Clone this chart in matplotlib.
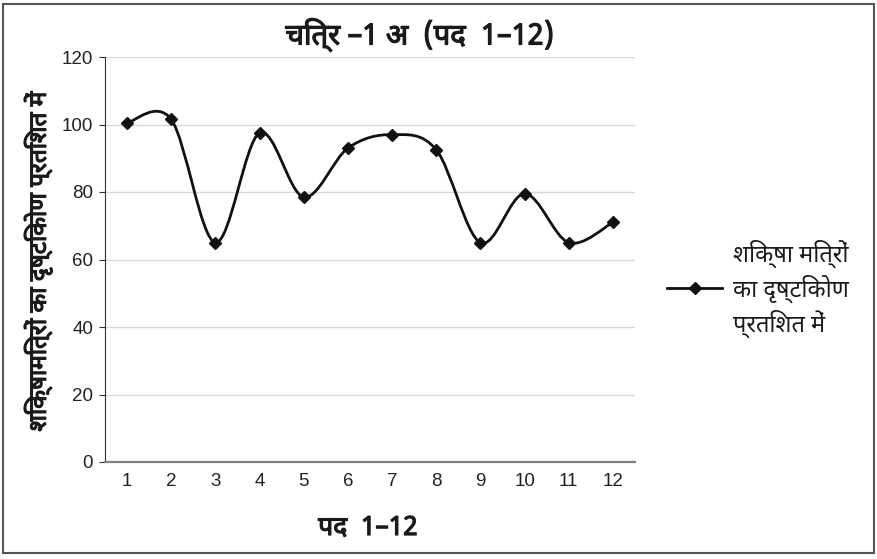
import numpy as np
import matplotlib
matplotlib.use("Agg")
import matplotlib.pyplot as plt
import matplotlib.patheffects as pe
from matplotlib import font_manager
from matplotlib.path import Path
from matplotlib.patches import PathPatch, Rectangle
from matplotlib.lines import Line2D

# data
items = list(range(1, 13))
percent = [100.5, 101.5, 65, 97.5, 78.5, 93, 97, 92.5, 65, 79.5, 65, 71]
y_ticks = [0, 20, 40, 60, 80, 100, 120]

title = "चित्र –1 अ  (पद  1–12)"
x_label = "पद  1–12"
y_label = "शिक्षामित्रों का दृष्टिकोण प्रतिशत में"
legend_label = "शिक्षा मित्रों\nका दृष्टिकोण\nप्रतिशत में"

# pick a Devanagari font that is installed
names = {f.name for f in font_manager.fontManager.ttflist}
deva = [n for n in ['Noto Sans Devanagari', 'Mukta', 'Hind', 'FreeSans'] if n in names][:1]
plt.rcParams['font.family'] = deva + ['DejaVu Sans']
bold = [pe.withStroke(linewidth=0.9, foreground='#1a1a1a')]

fig = plt.figure(figsize=(8.77, 5.59), dpi=100)
ax = fig.add_axes([105 / 877, (559 - 462) / 559, 530 / 877, 405 / 559])

# smoothed line like a spreadsheet chart (bezier segments through the points)
x = np.array(items, dtype=float)
y = np.array(percent, dtype=float)
n = len(x)
verts = [(x[0], y[0])]
codes = [Path.MOVETO]
for i in range(n - 1):
    p0 = np.array([x[max(i - 1, 0)], y[max(i - 1, 0)]])
    p1 = np.array([x[i], y[i]])
    p2 = np.array([x[i + 1], y[i + 1]])
    p3 = np.array([x[min(i + 2, n - 1)], y[min(i + 2, n - 1)]])
    c1 = p1 + (p2 - p0) / 6
    c2 = p2 - (p3 - p1) / 6
    verts += [tuple(c1), tuple(c2), tuple(p2)]
    codes += [Path.CURVE4] * 3
ax.add_patch(PathPatch(Path(verts, codes), fill=False, lw=2, color='#111111', zorder=3))
ax.plot(items, percent, ls='none', marker='D', ms=6.5, color='#111111', zorder=4)

ax.set_xlim(0.5, 12.5)
ax.set_ylim(0, 120)
ax.set_yticks(y_ticks)
ax.set_xticks(items)
ax.tick_params(axis='x', length=0, pad=8, labelsize=13.5)
ax.tick_params(axis='y', length=4.5, width=0.8, color='#333333', pad=4, labelsize=13.5)
for lab in ax.get_xticklabels() + ax.get_yticklabels():
    lab.set_family(['Liberation Sans'])
    lab.set_color('#222222')
ax.grid(axis='y', color='#d9d9d9', lw=1)
ax.set_axisbelow(True)
for s in ['top', 'right']:
    ax.spines[s].set_visible(False)
ax.spines['left'].set_color('#333333')
ax.spines['bottom'].set_color('#808080')
ax.spines['bottom'].set_linewidth(1.6)

fig.text(420 / 877, 1 - 35 / 559, title, ha='center', va='center', fontsize=21,
         color='#1a1a1a', path_effects=bold)
fig.text(368 / 877, 1 - 528 / 559, x_label, ha='center', va='center', fontsize=19,
         color='#1a1a1a', path_effects=bold)
fig.text(38 / 877, 1 - 262 / 559, y_label, ha='center', va='center', rotation=90, fontsize=17.5,
         color='#1a1a1a', path_effects=bold)

# legend drawn by hand to the right of the plot
fig.add_artist(Line2D([667 / 877, 722 / 877], [1 - 288 / 559] * 2, color='#111111', lw=2,
                      transform=fig.transFigure))
fig.add_artist(Line2D([694.5 / 877], [1 - 288 / 559], color='#111111', marker='D', ms=6.5,
                      transform=fig.transFigure))
fig.text(733 / 877, 1 - 289 / 559, legend_label, ha='left', va='center', fontsize=17,
         color='#1a1a1a', linespacing=1.3)

fig.add_artist(Rectangle((3 / 877, 6 / 559), 871 / 877, 549 / 559, transform=fig.transFigure,
                         fill=False, edgecolor='#555555', lw=1.5))

fig.savefig("out.png", dpi=100)
